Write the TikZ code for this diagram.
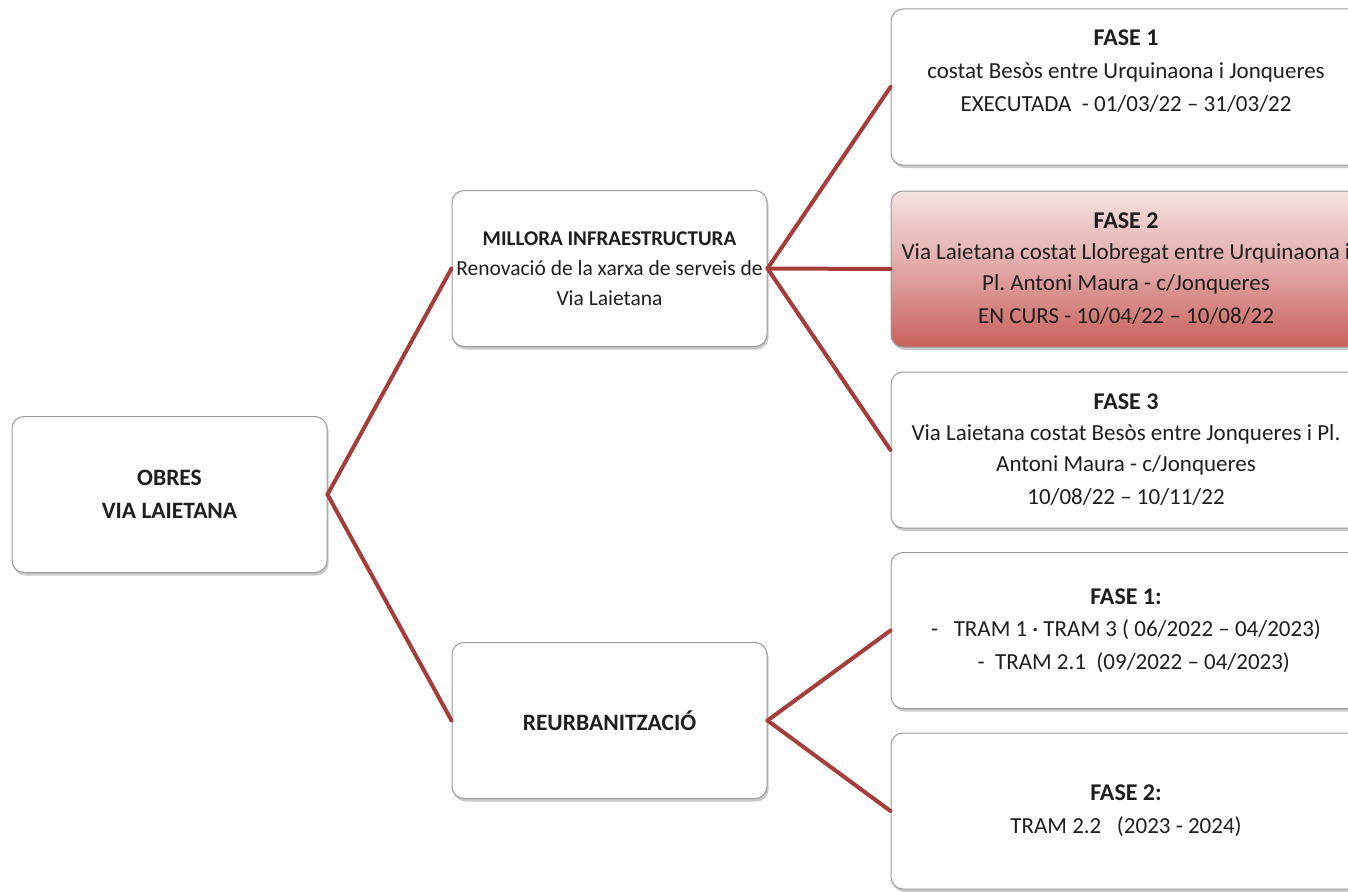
\documentclass[tikz,border=0pt]{standalone}
\usepackage{fontspec}
\setmainfont{Carlito}
\usetikzlibrary{shadows}
\definecolor{linkred}{HTML}{A63D3A}
\definecolor{boxgray}{HTML}{9A9A9A}
\definecolor{pinktop}{HTML}{F4E2E1}
\definecolor{redbot}{HTML}{C9605C}
\definecolor{txtcol}{HTML}{1E1E1E}
\tikzset{
  boxst/.style={draw=boxgray, line width=1pt, rounded corners=12pt, fill=white,
    minimum height=156pt, align=center, text=txtcol, inner sep=0pt,
    drop shadow={shadow xshift=1.5pt, shadow yshift=-3pt, opacity=0.35, fill=black!60}},
  leftbox/.style={boxst, minimum width=315pt, font=\fontsize{23.5}{33}\selectfont},
  midbox/.style={boxst, minimum width=315pt, font=\fontsize{21.5}{30}\selectfont},
  rightbox/.style={boxst, minimum width=470pt, font=\fontsize{23}{33}\selectfont},
  hot/.style={top color=pinktop, bottom color=redbot, middle color=pinktop!55!redbot},
  link/.style={draw=linkred, line width=4pt, line cap=round}
}
\newcommand{\ttl}[1]{\textbf{\fontsize{24}{33}\selectfont #1}}
\begin{document}
\begin{tikzpicture}[x=1pt,y=-1pt]
\useasboundingbox (0,0) rectangle (1348,891);
\clip (0,0) rectangle (1348,891);
\node[leftbox] (obres) at (169.5,494.5) {\textbf{OBRES}\\\textbf{VIA LAIETANA}};
\node[midbox] (millora) at (609.5,268.5) {\textbf{\fontsize{21}{30}\selectfont MILLORA INFRAESTRUCTURA}\\Renovació de la xarxa de serveis de\\Via Laietana};
\node[midbox, font=\fontsize{23.5}{30}\selectfont] (reurb) at (609.5,720.5) {\textbf{REURBANITZACIÓ}};
\node[rightbox] (f1) at (1126,87) {\ttl{FASE 1}\\costat Besòs entre Urquinaona i Jonqueres\\EXECUTADA~ - 01/03/22 – 31/03/22\\\mbox{}};
\node[rightbox, hot, font=\fontsize{23}{31}\selectfont] (f2) at (1126,269) {\ttl{FASE 2}\\Via Laietana costat Llobregat entre Urquinaona i\\Pl.\ Antoni Maura - c/Jonqueres\\[2pt]EN CURS - 10/04/22 – 10/08/22};
\node[rightbox, font=\fontsize{23}{31}\selectfont] (f3) at (1126,450) {\ttl{FASE 3}\\Via Laietana costat Besòs entre Jonqueres i Pl.\\Antoni Maura - c/Jonqueres\\[2pt]10/08/22 – 10/11/22};
\node[rightbox, font=\fontsize{23}{32.5}\selectfont] (r1) at (1126,630.5) {\ttl{FASE 1:}\\-~~ TRAM 1 · TRAM 3 ( 06/2022 – 04/2023)\\~~~- ~TRAM 2.1 ~(09/2022 – 04/2023)};
\node[rightbox] (r2) at (1126,811) {\ttl{FASE 2:}\\TRAM 2.2 ~~(2023 - 2024)};
\draw[link] (obres.east) -- (millora.west);
\draw[link] (obres.east) -- (reurb.west);
\draw[link] (millora.east) -- (f1.west);
\draw[link] (millora.east) -- (f2.west);
\draw[link] (millora.east) -- (f3.west);
\draw[link] (reurb.east) -- (r1.west);
\draw[link] (reurb.east) -- (r2.west);
\end{tikzpicture}
\end{document}
